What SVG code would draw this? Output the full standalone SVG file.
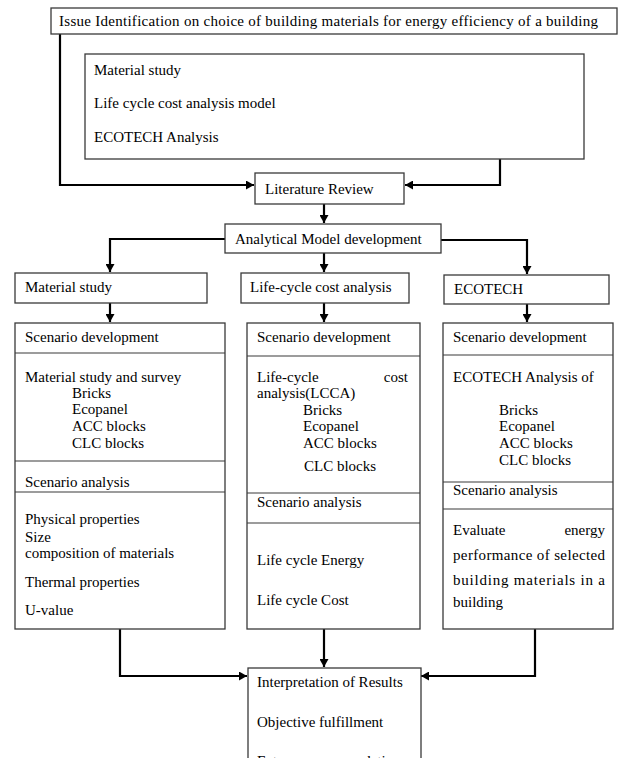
<svg xmlns="http://www.w3.org/2000/svg" width="621" height="758" viewBox="0 0 621 758">
<style>
.box{fill:#fff;stroke:#3a3a3a;stroke-width:1.3}
.div{stroke:#3a3a3a;stroke-width:1.2}
text{font-family:"Liberation Serif","Times New Roman",serif;font-size:15px;fill:#000}
.con{fill:none;stroke:#000;stroke-width:2.2}
</style>
<defs>
<marker id="ah" markerUnits="userSpaceOnUse" markerWidth="9" markerHeight="9" refX="8" refY="4.5" orient="auto">
<path d="M0,0 L8,4.5 L0,9 z" fill="#000"/>
</marker>
</defs>
<rect width="621" height="758" fill="#fff"/>

<g id="connectors">
<path class="con" d="M60,34 V185 H254" marker-end="url(#ah)"/>
<path class="con" d="M500,159 V185 H405" marker-end="url(#ah)"/>
<path class="con" d="M324,204 V223" marker-end="url(#ah)"/>
<path class="con" d="M225,239 H110 V272" marker-end="url(#ah)"/>
<path class="con" d="M324,253 V272" marker-end="url(#ah)"/>
<path class="con" d="M441,240 H527 V274" marker-end="url(#ah)"/>
<path class="con" d="M110,303 V322" marker-end="url(#ah)"/>
<path class="con" d="M324,303 V322" marker-end="url(#ah)"/>
<path class="con" d="M527,304 V322" marker-end="url(#ah)"/>
<path class="con" d="M120,629 V676 H247" marker-end="url(#ah)"/>
<path class="con" d="M324,629 V667" marker-end="url(#ah)"/>
<path class="con" d="M535,629 V676 H421" marker-end="url(#ah)"/>
</g>

<g id="issue">
<rect class="box" x="51" y="8" width="566" height="26"/>
<text x="59" y="26" textLength="539" lengthAdjust="spacing">Issue Identification on choice of building materials for energy efficiency of a building</text>
</g>

<g id="scope">
<rect class="box" x="85" y="54" width="499" height="105"/>
<text x="94" y="75">Material study</text>
<text x="94" y="108">Life cycle cost analysis model</text>
<text x="94" y="142">ECOTECH Analysis</text>
</g>

<g id="literature">
<rect class="box" x="255" y="173" width="149" height="31"/>
<text x="265" y="194">Literature Review</text>
</g>

<g id="model">
<rect class="box" x="225" y="224" width="216" height="29"/>
<text x="235" y="244">Analytical Model development</text>
</g>

<g id="material">
<rect class="box" x="15" y="273" width="192" height="30"/>
<text x="25" y="292">Material study</text>
</g>

<g id="lcca">
<rect class="box" x="241" y="273" width="168" height="30"/>
<text x="250" y="292">Life-cycle cost analysis</text>
</g>

<g id="ecotech">
<rect class="box" x="444" y="275" width="165" height="29"/>
<text x="454" y="294">ECOTECH</text>
</g>

<g id="material-col">
<rect class="box" x="15" y="323" width="210" height="306"/>
<line class="div" x1="15" y1="353" x2="225" y2="353"/>
<line class="div" x1="15" y1="461" x2="225" y2="461"/>
<line class="div" x1="15" y1="492" x2="225" y2="492"/>
<text x="25" y="342">Scenario development</text>
<text x="25" y="382">Material study and survey</text>
<text x="72" y="398">Bricks</text>
<text x="72" y="414">Ecopanel</text>
<text x="72" y="431">ACC blocks</text>
<text x="72" y="448">CLC blocks</text>
<text x="25" y="487">Scenario analysis</text>
<text x="25" y="524">Physical properties</text>
<text x="25" y="542">Size</text>
<text x="25" y="558">composition of materials</text>
<text x="25" y="587">Thermal properties</text>
<text x="25" y="615">U-value</text>
</g>

<g id="lcca-col">
<rect class="box" x="247" y="323" width="173" height="306"/>
<line class="div" x1="247" y1="356" x2="420" y2="356"/>
<line class="div" x1="247" y1="493" x2="420" y2="493"/>
<line class="div" x1="247" y1="523" x2="420" y2="523"/>
<text x="257" y="342">Scenario development</text>
<text x="257" y="382">Life-cycle</text>
<text x="408" y="382" text-anchor="end">cost</text>
<text x="257" y="398">analysis(LCCA)</text>
<text x="303" y="415">Bricks</text>
<text x="303" y="431">Ecopanel</text>
<text x="303" y="448">ACC blocks</text>
<text x="304" y="471">CLC blocks</text>
<text x="257" y="507">Scenario analysis</text>
<text x="257" y="565">Life cycle Energy</text>
<text x="257" y="605">Life cycle Cost</text>
</g>

<g id="ecotech-col">
<rect class="box" x="443" y="323" width="170" height="306"/>
<line class="div" x1="443" y1="355" x2="613" y2="355"/>
<line class="div" x1="443" y1="482" x2="613" y2="482"/>
<line class="div" x1="443" y1="509" x2="613" y2="509"/>
<text x="453" y="342">Scenario development</text>
<text x="453" y="382">ECOTECH Analysis of</text>
<text x="499" y="415">Bricks</text>
<text x="499" y="431">Ecopanel</text>
<text x="499" y="448">ACC blocks</text>
<text x="499" y="465">CLC blocks</text>
<text x="453" y="495">Scenario analysis</text>
<text x="453" y="535">Evaluate</text>
<text x="605" y="535" text-anchor="end">energy</text>
<text x="453" y="560" textLength="152" lengthAdjust="spacing">performance of selected</text>
<text x="453" y="585" textLength="152" lengthAdjust="spacing">building materials in a</text>
<text x="453" y="607">building</text>
</g>

<g id="results">
<rect class="box" x="248" y="668" width="173" height="100"/>
<text x="257" y="687">Interpretation of Results</text>
<text x="257" y="727">Objective fulfillment</text>
<text x="257" y="766">Future recommendations</text>
</g>
</svg>
